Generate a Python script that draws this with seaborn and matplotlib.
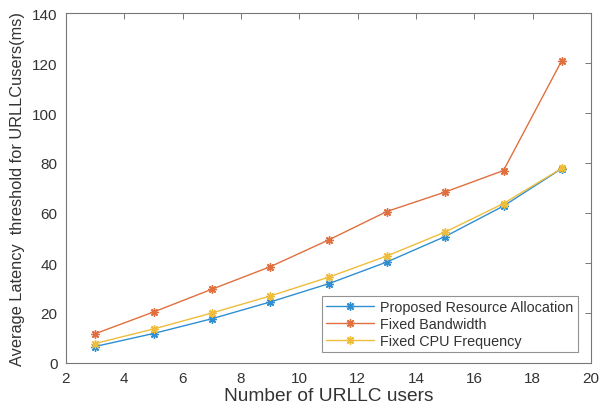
import matplotlib
matplotlib.use("Agg")
import matplotlib.pyplot as plt
import seaborn as sns
import pandas as pd

users = [3, 5, 7, 9, 11, 13, 15, 17, 19]
proposed = [6.6, 11.8, 17.7, 24.4, 31.7, 40.4, 50.6, 62.8, 77.8]
fixed_bw = [11.7, 20.4, 29.5, 38.5, 49.2, 60.6, 68.4, 77.0, 121.0]
fixed_cpu = [7.8, 13.6, 20.0, 26.8, 34.3, 42.8, 52.4, 63.8, 77.9]
series_names = ["Proposed Resource Allocation", "Fixed Bandwidth", "Fixed CPU Frequency"]
colors = ["#2f8fd0", "#e0703f", "#efbd3c"]

sns.set_theme(style="white")
plt.rcParams['font.family'] = ['Liberation Sans', 'DejaVu Sans']

df = pd.DataFrame({
    "users": users * 3,
    "value": proposed + fixed_bw + fixed_cpu,
    "series": [series_names[0]] * len(users) + [series_names[1]] * len(users) + [series_names[2]] * len(users),
})

fig = plt.figure(figsize=(6.01, 4.14), dpi=100)
ax = fig.add_axes([66 / 601, (414 - 364) / 414, (591 - 66) / 601, (364 - 14) / 414])

sns.lineplot(data=df, x="users", y="value", hue="series", palette=colors,
             hue_order=series_names, marker=(8, 2, 0), markersize=6,
             linewidth=1.0, ax=ax, legend=True)

for ln in ax.lines:
    ln.set_markeredgecolor(ln.get_color())
    ln.set_markeredgewidth(1.0)

ax.set_xlim(2, 20)
ax.set_ylim(0, 140)
ax.set_xticks(range(2, 21, 2))
ax.set_yticks(range(0, 141, 20))
ax.tick_params(direction="in", length=4, width=0.7, colors="#777777", labelsize=11,
               top=True, right=True, labelcolor="#333333", pad=6)
for s in ax.spines.values():
    s.set_color("#777777")
    s.set_linewidth(0.8)
ax.set_xlabel("Number of URLLC users", fontsize=13.8, color="#333333", labelpad=1)
ax.set_ylabel("Average Latency  threshold for URLLCusers(ms)", fontsize=11.8, color="#333333", labelpad=5)

leg = ax.legend(loc="lower right", fontsize=10.4, frameon=True, fancybox=False,
                edgecolor="#777777", bbox_to_anchor=(1 - 13 / 525, 11 / 350),
                borderaxespad=0, handlelength=3.3, handletextpad=0.45,
                labelspacing=0.2, borderpad=0.3)
leg.get_frame().set_linewidth(0.8)
for h in leg.get_lines():
    h.set_markeredgecolor(h.get_color())
    h.set_markeredgewidth(1.0)
for t in leg.get_texts():
    t.set_color("#333333")

fig.savefig("out.png", dpi=100)
